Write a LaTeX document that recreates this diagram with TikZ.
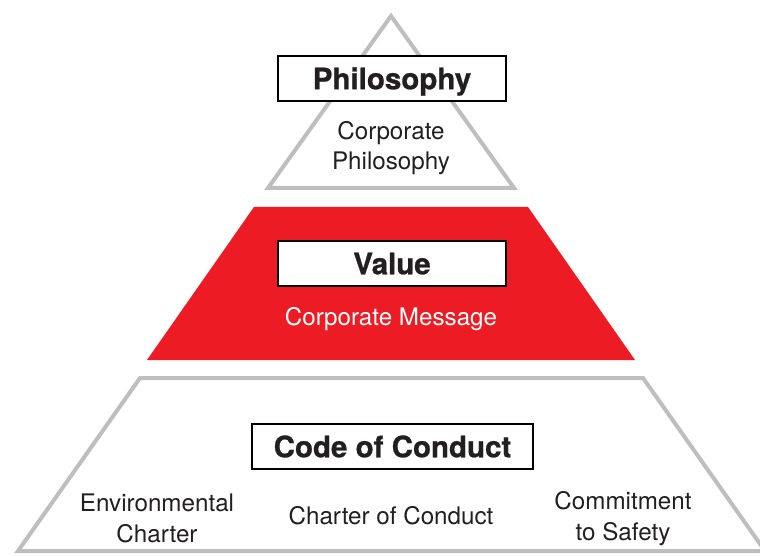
\documentclass[tikz,border=0pt]{standalone}
\usepackage{fontspec}
\setmainfont{TeX Gyre Heros}
\definecolor{pyrred}{HTML}{ED1C24}
\definecolor{pyrgray}{HTML}{BEBEBE}
\definecolor{txt}{HTML}{231F20}
\begin{document}
\begin{tikzpicture}[x=1pt,y=-1pt,
  tier/.style={draw=pyrgray,line width=4pt,line join=miter,fill=white},
  titlebox/.style={draw=black,line width=1.1pt,fill=white,minimum height=45pt,inner sep=0pt,
    text height=21.5pt,text depth=0pt,
    font=\fontsize{29.5}{30}\selectfont\bfseries\addfontfeature{FakeBold=0.8},text=txt},
  label/.style={align=center,font=\fontsize{24.2}{30.5}\selectfont,text=txt,inner sep=0pt}]
\useasboundingbox (0,0) rectangle (760,556);
\fill[white] (0,0) rectangle (760,556);
% top triangle
\draw[tier] (391,16) -- (514,188) -- (268,188) -- cycle;
% middle red trapezoid
\fill[pyrred] (254,207) -- (528,207) -- (635,360) -- (147,360) -- cycle;
% bottom trapezoid (clipped at right)
\begin{scope}
\clip (0,0) rectangle (760,556);
\draw[tier] (140,378) -- (643,378) -- (765,551) -- (18,551) -- cycle;
\end{scope}
% boxes
\node[titlebox,minimum width=228pt] (phil) at (392,78.5) {Philosophy};
\node[titlebox,minimum width=228pt] (val) at (392,263.5) {Value};
\node[titlebox,minimum width=281pt] (code) at (392.5,446.5) {Code of Conduct};
% texts
\node[label] (cphil) at (391,148) {Corporate\\Philosophy};
\node[label,text=white] (cmsg) at (391,319) {Corporate Message};
\node[label] (env) at (157,518.5) {Environmental\\Charter};
\node[label] (chc) at (391,516) {Charter of Conduct};
\node[label] (saf) at (623,518.5) {Commitment\\to Safety};
\end{tikzpicture}
\end{document}
